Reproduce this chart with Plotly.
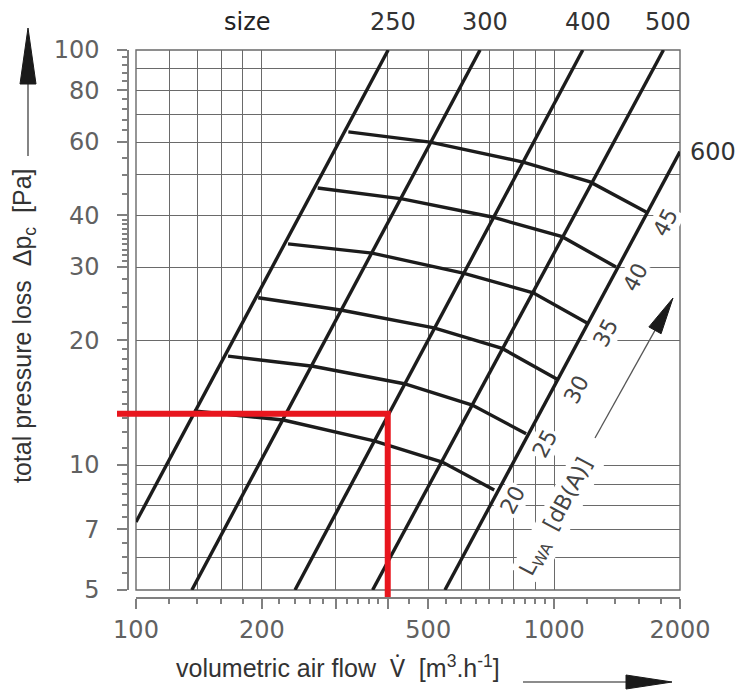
import numpy as np
import plotly.graph_objects as go

W, H = 743, 692

# ---------------- data ----------------
sizes = ["250", "300", "400", "500", "600"]
size_flow_lo = [100, 136, 240, 368, 548]
size_dp_lo = [7.29, 5, 5, 5, 5]
size_flow_hi = [401, 665, 1171, 1826, 2000]
size_dp_hi = [100, 100, 100, 100, 56.9]

lwa_levels = ["20", "25", "30", "35", "40", "45"]
lwa_flow = [
    [137.6, 225, 371, 540, 719],
    [166, 265, 438, 637, 857],
    [196, 311, 516, 751, 1017],
    [231, 367, 606, 891, 1199],
    [272, 433, 711, 1045, 1406],
    [322, 505, 843, 1219, 1660],
]
lwa_dp = [
    [13.5, 12.84, 11.43, 10.17, 8.71],
    [18.3, 17.3, 15.7, 13.95, 11.9],
    [25.3, 23.6, 21.4, 19.1, 16.1],
    [34.1, 32.4, 29.0, 26.0, 22.0],
    [46.5, 43.8, 39.6, 35.5, 30.0],
    [63.5, 60.0, 53.7, 48.1, 40.7],
]

example_flow = 400
example_dp = 13.3

x_grid = [100, 120, 140, 160, 180, 200, 300, 400, 500, 600, 700, 800, 900, 1000, 2000]
x_major = [100, 200, 300, 400, 500, 1000, 2000]
x_major_text = ["100", "200", "", "", "500", "1000", "2000"]
x_minor = [120, 140, 160, 180, 220, 240, 260, 280, 320, 340, 360, 380,
           450, 550, 600, 650, 700, 750, 800, 850, 900, 950,
           1200, 1400, 1600, 1800]

y_grid = [5, 6, 7, 8, 9, 10, 20, 30, 40, 50, 60, 70, 80, 90, 100]
y_major = [5, 7, 10, 20, 30, 40, 60, 80, 100]
y_major_text = ["5", "7", "10", "20", "30", "40", "60", "80", "100"]
y_minor = [5.5, 6, 6.5, 7.5, 8, 8.5, 9, 9.5,
           11, 12, 13, 14, 15, 16, 17, 18, 19,
           22, 24, 26, 28,
           31, 32, 33, 34, 35, 36, 37, 38, 39,
           45, 50, 55, 64, 68, 72, 76, 84, 88, 92, 96]

# ---------------- geometry ----------------
PX_L, PX_R, PY_T, PY_B = 136, 680, 50, 590
XR = [2.0, np.log10(2000)]
YR = [np.log10(5), 2.0]
YAXIS_PX = 128
XAXIS_PY = 598


def px_to_x(p):
    return 10 ** (XR[0] + (p - PX_L) / (PX_R - PX_L) * (XR[1] - XR[0]))


def py_to_y(p):
    return 10 ** (YR[0] + (PY_B - p) / (PY_B - PY_T) * (YR[1] - YR[0]))


def px(xp):
    return xp / W


def py(yp):
    return 1 - yp / H


GRID = "#6a6a6a"
INK = "#1c1c1c"
TICK = "#808080"
LABEL = "#616161"

fig = go.Figure()

# size lines
for i, s in enumerate(sizes):
    fig.add_trace(go.Scatter(
        x=[size_flow_lo[i], size_flow_hi[i]], y=[size_dp_lo[i], size_dp_hi[i]],
        mode="lines", line=dict(color=INK, width=3.4), hoverinfo="skip",
        showlegend=False))

# sound power curves
for i, lv in enumerate(lwa_levels):
    fig.add_trace(go.Scatter(
        x=lwa_flow[i], y=lwa_dp[i], mode="lines",
        line=dict(color=INK, width=3.4), hoverinfo="skip", showlegend=False))

# dummy traces for the tick axes
fig.add_trace(go.Scatter(x=[100], y=[5], xaxis="x3", yaxis="y", mode="markers",
                         marker=dict(opacity=0), hoverinfo="skip", showlegend=False))
fig.add_trace(go.Scatter(x=[100], y=[5], xaxis="x", yaxis="y3", mode="markers",
                         marker=dict(opacity=0), hoverinfo="skip", showlegend=False))

# red reading line on extended axes (so it may run past the grid)
ext_l, ext_b = 30, 15
fig.add_trace(go.Scatter(
    x=[px_to_x(117), example_flow, example_flow],
    y=[example_dp, example_dp, py_to_y(597)],
    xaxis="x2", yaxis="y2", mode="lines",
    line=dict(color="#e8161e", width=6), hoverinfo="skip", showlegend=False))

xdom = [PX_L / W, PX_R / W]
ydom = [1 - PY_B / H, 1 - PY_T / H]

fig.update_layout(
    width=W, height=H,
    margin=dict(l=0, r=0, t=0, b=0, autoexpand=False),
    paper_bgcolor="white", plot_bgcolor="rgba(0,0,0,0)",
    showlegend=False,
    xaxis=dict(type="log", domain=xdom, range=XR, anchor="y",
               tickmode="array", tickvals=x_grid, ticks="", showticklabels=False,
               showgrid=True, gridcolor=GRID, gridwidth=1.4, showline=False,
               zeroline=False, fixedrange=True, automargin=False),
    yaxis=dict(type="log", domain=ydom, range=YR, anchor="x",
               tickmode="array", tickvals=y_grid, ticks="", showticklabels=False,
               showgrid=True, gridcolor=GRID, gridwidth=1.4, showline=False,
               zeroline=False, fixedrange=True, automargin=False),
    xaxis3=dict(type="log", overlaying="x", range=XR, anchor="free",
                position=py(XAXIS_PY), automargin=False,
                tickmode="array", tickvals=x_major, ticktext=x_major_text,
                ticks="outside", ticklen=10, tickwidth=1.5, tickcolor=TICK,
                ticklabelstandoff=0,
                minor=dict(tickmode="array", tickvals=x_minor, ticks="outside",
                           ticklen=5, tickwidth=1.5, tickcolor=TICK, showgrid=False),
                showgrid=False, showline=True, linecolor=TICK, linewidth=1.5,
                zeroline=False,
                tickfont=dict(family="DejaVu Sans", size=24, color=LABEL)),
    yaxis3=dict(type="log", overlaying="y", range=YR, anchor="free",
                position=px(YAXIS_PX), side="left", automargin=False,
                tickmode="array", tickvals=y_major, ticktext=y_major_text,
                ticks="outside", ticklen=10, tickwidth=1.5, tickcolor=TICK,
                ticklabelstandoff=13,
                minor=dict(tickmode="array", tickvals=y_minor, ticks="outside",
                           ticklen=5, tickwidth=1.5, tickcolor=TICK, showgrid=False),
                showgrid=False, showline=True, linecolor=TICK, linewidth=1.5,
                zeroline=False,
                tickfont=dict(family="DejaVu Sans", size=24, color=LABEL)),
    xaxis2=dict(type="log", domain=[(PX_L - ext_l) / W, PX_R / W],
                range=[XR[0] - ext_l / (PX_R - PX_L) * (XR[1] - XR[0]), XR[1]],
                anchor="y2", visible=False, fixedrange=True),
    yaxis2=dict(type="log", domain=[1 - (PY_B + ext_b) / H, 1 - PY_T / H],
                range=[YR[0] - ext_b / (PY_B - PY_T) * (YR[1] - YR[0]), YR[1]],
                anchor="x2", visible=False, fixedrange=True),
)

shapes = []
shapes.append(dict(type="rect", xref="x domain", yref="y domain", x0=0, x1=1, y0=0, y1=1,
                   line=dict(color=GRID, width=1.4), layer="below"))


def arrow(x0, y0, x1, y1, head_len, half_w, color, width):
    d = np.array([x1 - x0, y1 - y0], float)
    L = np.hypot(*d)
    u = d / L
    n = np.array([-u[1], u[0]])
    base = np.array([x1, y1]) - head_len * u
    b1 = base + half_w * n
    b2 = base - half_w * n
    out = [dict(type="line", xref="paper", yref="paper",
                x0=px(x0), y0=py(y0), x1=px(base[0] + 2 * u[0]), y1=py(base[1] + 2 * u[1]),
                line=dict(color=color, width=width))]
    path = "M{},{} L{},{} L{},{} Z".format(px(x1), py(y1), px(b1[0]), py(b1[1]),
                                           px(b2[0]), py(b2[1]))
    out.append(dict(type="path", xref="paper", yref="paper", path=path,
                    fillcolor="#1a1a1a", line=dict(color="#1a1a1a", width=1)))
    return out


shapes += arrow(28, 156, 28, 28, 56, 8, "#666666", 1.6)
shapes += arrow(523, 682, 672, 682, 46, 7, "#666666", 1.6)
shapes += arrow(595, 438, 673, 298, 37, 7, "#555555", 1.3)
fig.update_layout(shapes=shapes)

C = dict(xanchor="center", yanchor="middle", showarrow=False)
ann = []
ann.append(dict(xref="paper", yref="paper", x=px(247), y=py(22), text="size",
                font=dict(family="DejaVu Sans", size=24, color="#222222"), **C))
for i, s in enumerate(sizes[:-1]):
    ann.append(dict(xref="x", yref="paper", x=np.log10(size_flow_hi[i]), y=py(22),
                    text=s, xshift=5,
                    font=dict(family="DejaVu Sans", size=24, color="#333333"), **C))
ann.append(dict(xref="x", yref="y", x=np.log10(size_flow_hi[-1]), y=np.log10(size_dp_hi[-1]),
                text=sizes[-1], showarrow=False, xanchor="left", yanchor="middle", xshift=8,
                font=dict(family="DejaVu Sans", size=24, color="#333333")))
for i, lv in enumerate(lwa_levels):
    ann.append(dict(xref="x", yref="y", x=np.log10(lwa_flow[i][-1]), y=np.log10(lwa_dp[i][-1]),
                    text=lv, xshift=19, yshift=-10, textangle=-62,
                    bgcolor="white", borderpad=1,
                    font=dict(family="DejaVu Sans", size=22, color="#444444"), **C))
ann.append(dict(xref="paper", yref="paper", x=px(557), y=py(517),
                text="L<sub>WA</sub>  [dB(A)]", textangle=-62,
                bgcolor="white", borderpad=2,
                font=dict(family="DejaVu Sans", size=22, color="#444444"), **C))
ann.append(dict(xref="paper", yref="paper", x=px(338), y=py(667),
                text="volumetric air flow  <span style=\"font-family:'Noto Sans'\">V\u0307</span>  [m<sup>3</sup>.h<sup>-1</sup>]",
                font=dict(family="Liberation Sans", size=25, color="#333333"), **C))
ann.append(dict(xref="paper", yref="paper", x=px(24), y=py(326),
                text="total pressure loss  \u0394p<sub>c</sub>  [Pa]", textangle=-90,
                font=dict(family="Liberation Sans", size=25, color="#333333"), **C))
fig.update_layout(annotations=ann)

fig.write_html("out.html")
